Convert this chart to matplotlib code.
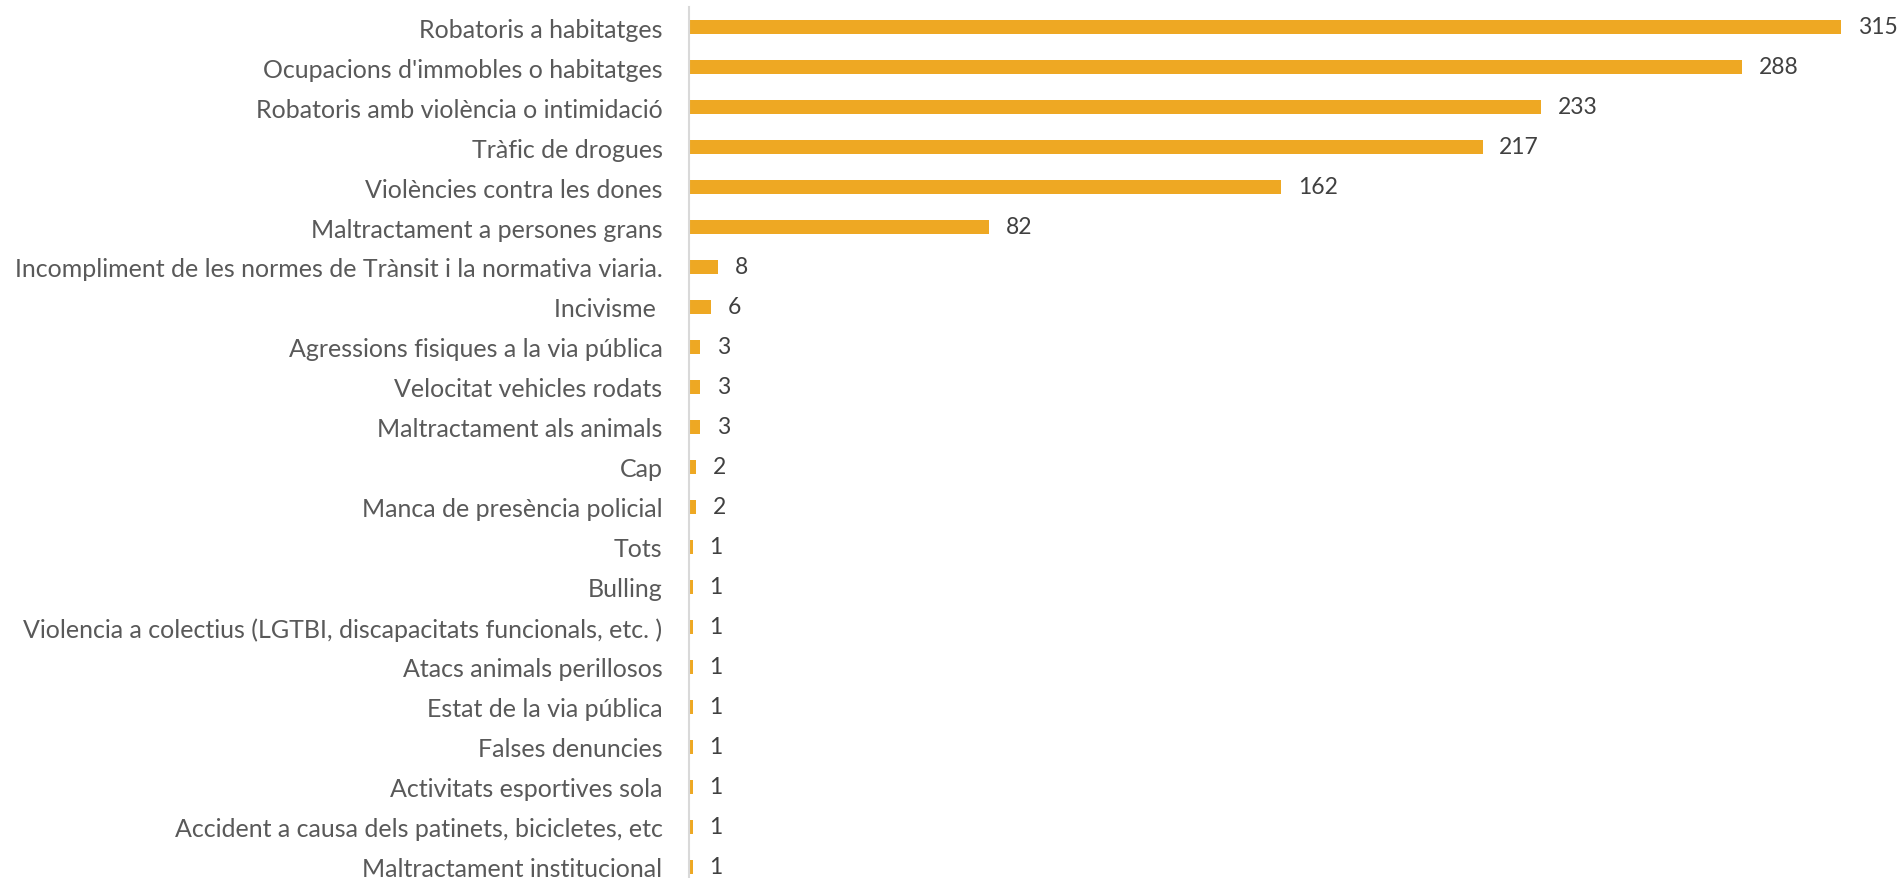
import matplotlib.pyplot as plt

categories = [
    "Robatoris a habitatges",
    "Ocupacions d'immobles o habitatges",
    "Robatoris amb violència o intimidació",
    "Tràfic de drogues",
    "Violències contra les dones",
    "Maltractament a persones grans",
    "Incompliment de les normes de Trànsit i la normativa viaria.",
    "Incivisme ",
    "Agressions fisiques a la via pública",
    "Velocitat vehicles rodats",
    "Maltractament als animals",
    "Cap",
    "Manca de presència policial",
    "Tots",
    "Bulling",
    "Violencia a colectius (LGTBI, discapacitats funcionals, etc. )",
    "Atacs animals perillosos",
    "Estat de la via pública",
    "Falses denuncies",
    "Activitats esportives sola",
    "Accident a causa dels patinets, bicicletes, etc",
    "Maltractament institucional",
]
values = [315, 288, 233, 217, 162, 82, 8, 6, 3, 3, 3, 2, 2, 1, 1, 1, 1, 1, 1, 1, 1, 1]

W, H = 1899, 879
fig = plt.figure(figsize=(W / 100, H / 100), dpi=100)
# axes placed in pixel terms, bottom row is cut by the figure edge like the original
left, right, top, bottom = 689, W, 8, H + 9
ax = fig.add_axes([left / W, 1 - bottom / H, (right - left) / W, (bottom - top) / H])

pos = list(range(len(categories)))
ax.barh(pos, values, height=0.36, color="#EEA823")
ax.set_ylim(len(categories) - 0.5, -0.5)
ax.set_xlim(0, (right - left) / 3.657)

ax.set_yticks(pos)
ax.set_yticklabels(categories, fontsize=18, color="#595959", family="Lato")
ax.tick_params(axis="y", length=0, pad=19)
ax.set_xticks([])

for s in ["top", "right", "bottom"]:
    ax.spines[s].set_visible(False)
ax.spines["left"].set_color("#D9D9D9")
ax.spines["left"].set_linewidth(1.5)

for p, v in zip(pos, values):
    ax.annotate(str(v), (v, p), xytext=(12, 0), textcoords="offset points",
                va="center", ha="left", fontsize=16.5, color="#404040", family="Lato")

fig.savefig("out.png", dpi=100)
